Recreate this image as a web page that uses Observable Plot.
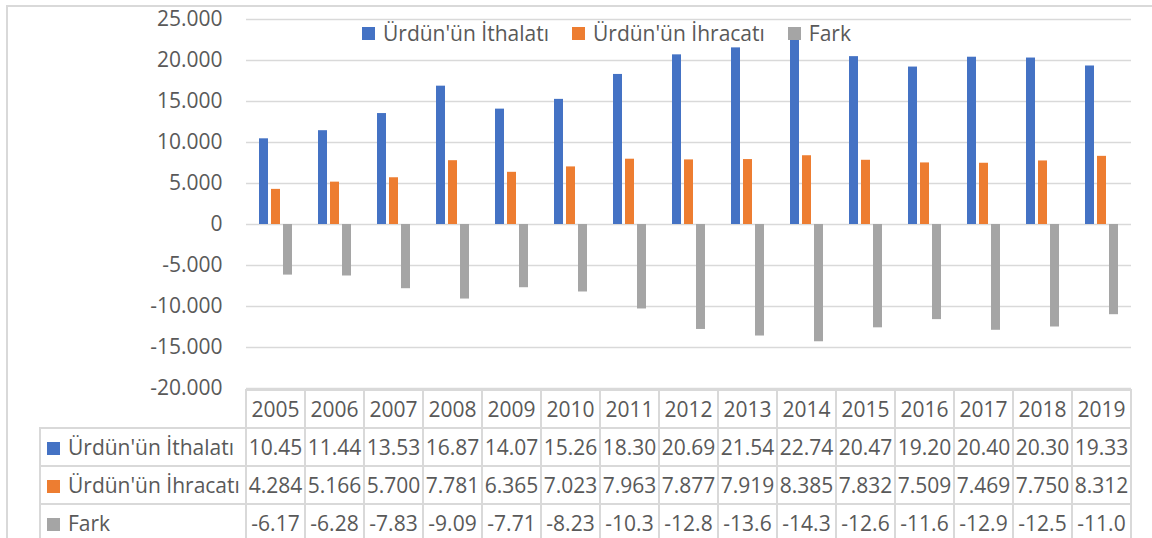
<!DOCTYPE html>
<html>
<head>
<meta charset="utf-8">
<script src="https://cdn.jsdelivr.net/npm/d3@7"></script>
<script src="https://cdn.jsdelivr.net/npm/@observablehq/plot@0.6"></script>
<style>
html, body { margin: 0; padding: 0; width: 1152px; height: 538px; overflow: hidden; background: #fff; }
#wrap { position: relative; width: 1152px; height: 538px; font-family: "Open Sans", sans-serif; color: #595959; }
#frame { position: absolute; left: 6px; top: 5px; width: 1200px; height: 600px; border: 2px solid #d9d9d9; box-sizing: border-box; }
#chart { position: absolute; left: 0; top: 0; }
#legend { position: absolute; top: 19px; left: 362px; display: flex; align-items: center; font-size: 21px; line-height: 28px; white-space: nowrap; }
#legend .item { display: flex; align-items: center; margin-right: 23px; }
.sw { display: inline-block; width: 13px; height: 13px; margin-right: 8px; }
#tbl { position: absolute; left: 39px; top: 389px; border-collapse: collapse; table-layout: fixed; font-size: 21px; color: #595959; }
#tbl td { border: 2px solid #d9d9d9; padding: 0; height: 36px; text-align: center; white-space: nowrap; overflow: hidden; }
#tbl td.blank { border: none; }
#tbl td.lab { text-align: left; padding-left: 6px; }
</style>
</head>
<body>
<div id="wrap">
  <div id="frame"></div>
  <div id="chart"></div>
  <div id="legend"></div>
  <table id="tbl"></table>
</div>
<script>
const years = [2005, 2006, 2007, 2008, 2009, 2010, 2011, 2012, 2013, 2014, 2015, 2016, 2017, 2018, 2019];
const seriesNames = ["Ürdün'ün İthalatı", "Ürdün'ün İhracatı", "Fark"];
const seriesColors = ["#4472C4", "#ED7D31", "#A5A5A5"];
const imports = [10450, 11440, 13530, 16870, 14070, 15260, 18300, 20690, 21540, 22740, 20470, 19200, 20400, 20300, 19330];
const exportsV = [4284, 5166, 5700, 7781, 6365, 7023, 7963, 7877, 7919, 8385, 7832, 7509, 7469, 7750, 8312];
const fark = [-6170, -6280, -7830, -9090, -7710, -8230, -10300, -12800, -13600, -14300, -12600, -11600, -12900, -12500, -11000];
const yTicks = [-20000, -15000, -10000, -5000, 0, 5000, 10000, 15000, 20000, 25000];

const seriesValues = [imports, exportsV, fark];
const rows = [];
years.forEach((yr, i) => {
  seriesNames.forEach((s, k) => rows.push({year: yr, series: s, value: seriesValues[k][i]}));
});

const loc = d3.formatLocale({decimal: ",", thousands: ".", grouping: [3], currency: ["", ""], minus: "-"});
const fmt = loc.format(",");

const plot = Plot.plot({
  width: 1152, height: 538,
  marginLeft: 245, marginRight: 20, marginTop: 19, marginBottom: 150,
  style: {fontFamily: "Open Sans", fontSize: "21px", color: "#595959", background: "transparent", overflow: "visible"},
  fx: {domain: years, padding: 0, axis: null, label: null},
  x: {domain: seriesNames, paddingInner: 0.23, paddingOuter: 0.89, axis: null, label: null},
  y: {domain: [-20000, 25000], ticks: yTicks, tickFormat: fmt, tickSize: 0, tickPadding: 24, label: null},
  color: {domain: seriesNames, range: seriesColors},
  marks: [
    Plot.ruleY(yTicks, {stroke: "#d9d9d9", strokeWidth: 1.5}),
    Plot.barY(rows, {fx: "year", x: "series", y: "value", fill: "series"})
  ]
});
document.getElementById("chart").appendChild(plot);

// legend
const legend = document.getElementById("legend");
seriesNames.forEach((s, k) => {
  const it = document.createElement("div");
  it.className = "item";
  it.innerHTML = `<span class="sw" style="background:${seriesColors[k]}"></span><span>${s}</span>`;
  legend.appendChild(it);
});

// data table aligned with the fx scale
const fxs = plot.scale("fx");
const colW = fxs.step;
const tableLeft = 39;
const labW = fxs.range[0] - tableLeft;
const tbl = document.getElementById("tbl");
let html = `<colgroup><col style="width:${labW}px">` + years.map(() => `<col style="width:${colW}px">`).join("") + `</colgroup>`;
html += `<tr><td class="blank"></td>` + years.map(y => `<td>${y}</td>`).join("") + `</tr>`;
const fmts = [v => (v / 1000).toPrecision(4), v => (v / 1000).toPrecision(4), v => (v / 1000).toPrecision(3)];
seriesNames.forEach((s, k) => {
  html += `<tr><td class="lab"><span class="sw" style="background:${seriesColors[k]}"></span>${s}</td>` +
    seriesValues[k].map(v => `<td>${fmts[k](v)}</td>`).join("") + `</tr>`;
});
tbl.innerHTML = html;
tbl.style.width = (labW + colW * years.length) + "px";
</script>
</body>
</html>
